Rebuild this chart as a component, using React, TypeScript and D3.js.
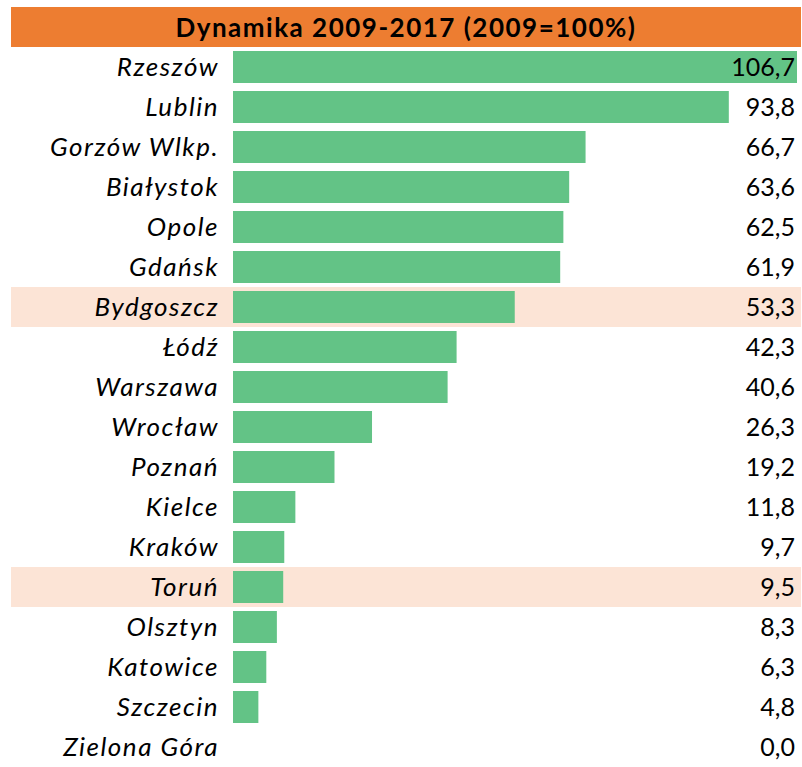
import React from "react";
import * as d3 from "d3";

const cities = ["Rzeszów","Lublin","Gorzów Wlkp.","Białystok","Opole","Gdańsk","Bydgoszcz","Łódź","Warszawa","Wrocław","Poznań","Kielce","Kraków","Toruń","Olsztyn","Katowice","Szczecin","Zielona Góra"];
const values = [106.7,93.8,66.7,63.6,62.5,61.9,53.3,42.3,40.6,26.3,19.2,11.8,9.7,9.5,8.3,6.3,4.8,0.0];
const highlighted = ["Bydgoszcz","Toruń"];
const title = "Dynamika 2009-2017 (2009=100%)";

const W = 802, H = 767;
const FONT = "Lato, 'Open Sans', sans-serif";

export default function App() {
  const x = d3.scaleLinear().domain([0, d3.max(values) as number]).range([233, 797]);
  const y = d3.scaleBand().domain(cities).range([47, 47 + 40 * cities.length]).paddingInner(0.2).paddingOuter(0.1);
  const band = d3.scaleBand().domain(cities).range([47, 47 + 40 * cities.length]);
  const fmt = (v: number) => v.toFixed(1).replace(".", ",");
  return (
    <svg width={W} height={H} style={{ position: "absolute", left: 0, top: 0, background: "#fff" }}>
      <rect x={11} y={7} width={790} height={40} fill="#ED7D31" />
      <text x={406} y={37} textAnchor="middle" fontFamily={FONT} fontWeight="bold" fontSize={26} letterSpacing={1.5} fill="#000">{title}</text>
      {cities.map((c) => (
        highlighted.includes(c) ? (
          <rect key={"h" + c} x={11} y={band(c)} width={790} height={band.bandwidth()} fill="#FCE4D6" />
        ) : null
      ))}
      {cities.map((c, i) => (
        values[i] > 0 ? (
          <rect key={"b" + c} x={x(0)} y={y(c)} width={x(values[i]) - x(0)} height={y.bandwidth()} fill="#63C386" />
        ) : null
      ))}
      {cities.map((c, i) => {
        const cy = (band(c) as number) + band.bandwidth() / 2;
        return (
          <g key={"t" + c}>
            <text x={219} y={cy + 9} textAnchor="end" fontFamily={FONT} fontStyle="italic" fontSize={26} letterSpacing={1.5} fill="#000">{c}</text>
            <text x={795} y={cy + 9} textAnchor="end" fontFamily={FONT} fontSize={25} fill="#000">{fmt(values[i])}</text>
          </g>
        );
      })}
    </svg>
  );
}
